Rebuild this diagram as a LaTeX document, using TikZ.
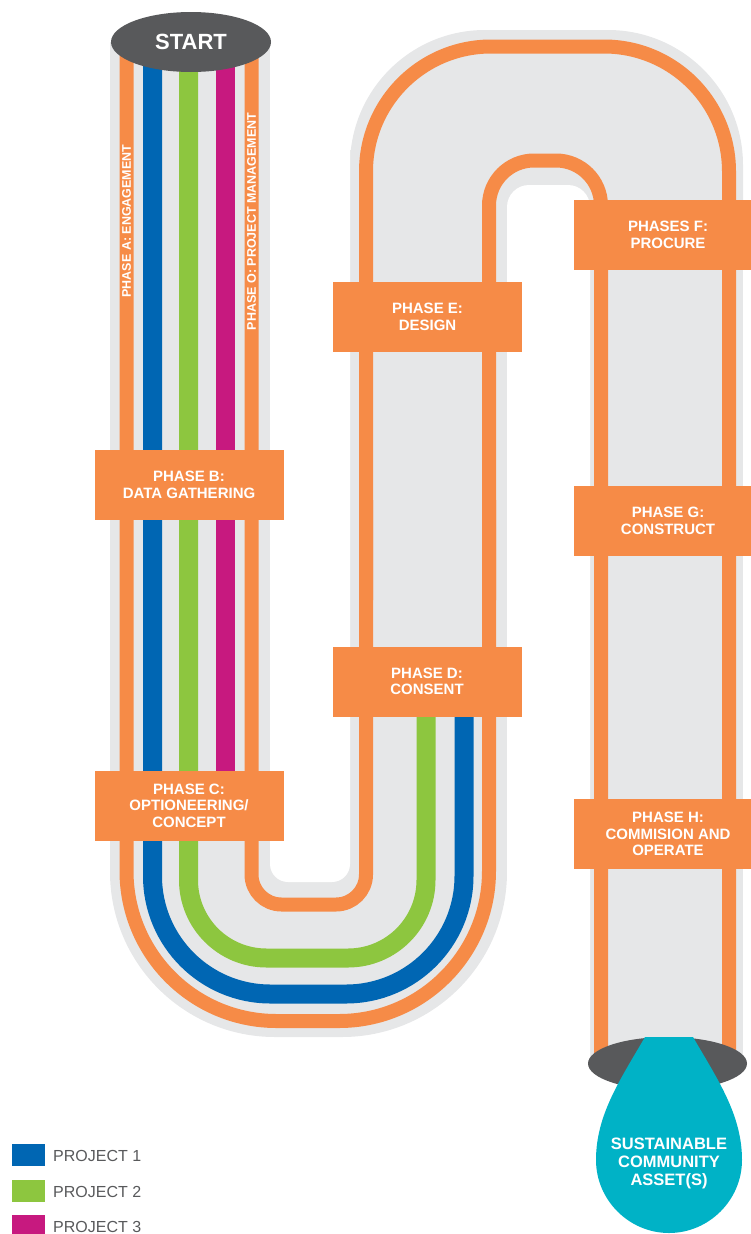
\documentclass[tikz,border=0pt]{standalone}
\usepackage{fontspec}
\setmainfont{Liberation Sans}
\usetikzlibrary{shapes.geometric}
\usepackage{xcolor}
\definecolor{myorange}{HTML}{F68B47}
\definecolor{myblue}{HTML}{0066B3}
\definecolor{mygreen}{HTML}{8DC63F}
\definecolor{mymagenta}{HTML}{C7197F}
\definecolor{mytube}{HTML}{E6E7E8}
\definecolor{mydark}{HTML}{58595B}
\definecolor{myteal}{HTML}{00B2C6}
\tikzset{
  tube/.style={fill=mytube},
  hole/.style={fill=white},
  band/.style={line width=14,myorange}, % orange edge of the pipe
  track/.style={line width=19},
  phase/.style={rectangle,fill=myorange,text=white,align=center,minimum width=189,minimum height=70,inner sep=0,font=\bfseries\fontsize{15}{16.5}\selectfont},
  side label/.style={text=white,rotate=90,inner sep=0,font=\bfseries\fontsize{12.5}{14}\selectfont},
  lid/.style={ellipse,fill=mydark,inner sep=0},
  keybox/.style={fill=#1,minimum width=33,minimum height=22,inner sep=0},
  key text/.style={anchor=west,text=mydark,inner sep=0,font=\fontsize{16}{18}\selectfont}
}

\begin{document}
\begin{tikzpicture}[x=1pt,y=-1pt]
    \useasboundingbox (0,0) rectangle (750,1234);
    % grey pipe
    \fill[tube] (110,42) rectangle (270,840);
    \fill[tube,rounded corners=165] (110,600) -- (110,1037) -- (507,1037) -- (507,600) -- cycle;
    \fill[tube] (350,150) rectangle (507,840);
    \fill[tube,rounded corners=135] (350,400) -- (350,30) -- (743,30) -- (743,400) -- cycle;
    \fill[tube] (590,250) rectangle (743,1063);
    \fill[hole,rounded corners=18] (270,-20) -- (270,882) -- (350,882) -- (350,-20) -- cycle;
    \fill[hole,rounded corners=22] (507,1300) -- (507,185) -- (590,185) -- (590,1300) -- cycle;

    % orange edges
    \draw[band,rounded corners=150] (126.5,42) -- (126.5,1021) -- (489,1021) -- (489,500);
    \draw[band,rounded corners=45] (489,600) -- (489,160.5) -- (601,160.5) -- (601,1063);
    \draw[band,rounded corners=30] (251.5,42) -- (251.5,904.5) -- (366,904.5) -- (366,500);
    \draw[band,rounded corners=125] (366,600) -- (366,46.5) -- (729,46.5) -- (729,1063);

    % projects
    \draw[track,myblue,rounded corners=118] (152.5,42) -- (152.5,994) -- (464,994) -- (464,700);
    \draw[track,mygreen,rounded corners=78] (188.5,42) -- (188.5,958) -- (426,958) -- (426,700);
    \draw[track,mymagenta] (225,42) -- (225,780);

    \node[lid,minimum width=160,minimum height=60,text=white,font=\bfseries\fontsize{22}{24}\selectfont] (start) at (191,42) {START};
    \node[lid,minimum width=159,minimum height=53] (finish) at (667.5,1063.5) {};
    \fill[myteal] (645,1037) -- (693,1037) .. controls (718,1080) and (742,1115) .. (742,1160)
        .. controls (742,1200) and (709,1233) .. (669,1233)
        .. controls (629,1233) and (596,1200) .. (596,1160)
        .. controls (596,1115) and (620,1080) .. (645,1037) -- cycle;
    \node[text=white,align=center,font=\bfseries\fontsize{16.5}{18}\selectfont] (asset) at (669,1163) {SUSTAINABLE\\COMMUNITY\\ASSET(S)};

    \node[side label] (phaseA) at (126.5,221) {PHASE A: ENGAGEMENT};
    \node[side label] (phaseO) at (251.5,221.5) {PHASE O: PROJECT MANAGEMENT};

    \node[phase] (phaseB) at (189,485) {PHASE B:\\DATA GATHERING};
    \node[phase] (phaseC) at (189,805.5) {PHASE C:\\OPTIONEERING/\\CONCEPT};
    \node[phase] (phaseE) at (427.5,317) {PHASE E:\\DESIGN};
    \node[phase] (phaseD) at (427,681.5) {PHASE D:\\CONSENT};
    \node[phase] (phaseF) at (668,235) {PHASES F:\\PROCURE};
    \node[phase] (phaseG) at (668,521) {PHASE G:\\CONSTRUCT};
    \node[phase] (phaseH) at (668,834) {PHASE H:\\COMMISION AND\\OPERATE};

    % legend
    \node[keybox=myblue] (key1) at (28.5,1155) {};
    \node[keybox=mygreen] (key2) at (28.5,1191) {};
    \node[keybox=mymagenta] (key3) at (28.5,1226) {};
    \node[key text] (label1) at (53,1156) {PROJECT 1};
    \node[key text] (label2) at (53,1192) {PROJECT 2};
    \node[key text] (label3) at (53,1227) {PROJECT 3};
\end{tikzpicture}
\end{document}
